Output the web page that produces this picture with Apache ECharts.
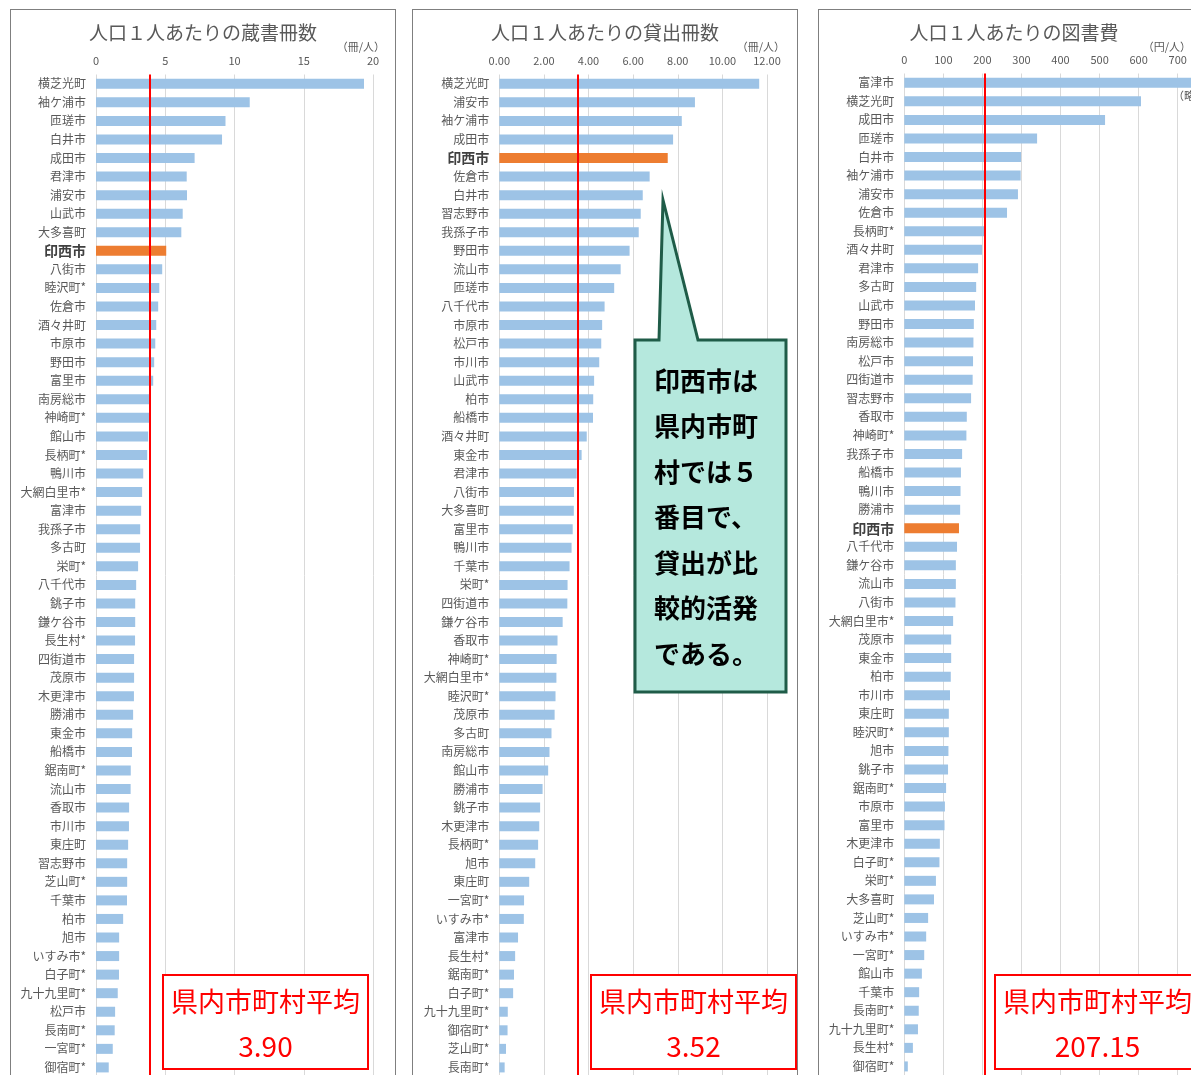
<!DOCTYPE html>
<html>
<head>
<meta charset="utf-8">
<script src="https://cdn.jsdelivr.net/npm/echarts@6/dist/echarts.min.js"></script>
<style>
  html, body { margin: 0; padding: 0; background: #fff; overflow: hidden; width: 1191px; height: 1075px; }
  .panel { position: absolute; top: 9px; height: 1100px; border: 1px solid #7f7f7f; box-sizing: border-box; background: #fff; }
</style>
</head>
<body>
<div id="p1" class="panel" style="left:10px;width:386px;"></div>
<div id="p2" class="panel" style="left:412px;width:386px;"></div>
<div id="p3" class="panel" style="left:818px;width:392px;"></div>
<script>
// 人口1人あたりの蔵書冊数
const books_names = ['横芝光町','袖ケ浦市','匝瑳市','白井市','成田市','君津市','浦安市','山武市','大多喜町','印西市',
  '八街市','睦沢町*','佐倉市','酒々井町','市原市','野田市','富里市','南房総市','神崎町*','館山市',
  '長柄町*','鴨川市','大網白里市*','富津市','我孫子市','多古町','栄町*','八千代市','銚子市','鎌ケ谷市',
  '長生村*','四街道市','茂原市','木更津市','勝浦市','東金市','船橋市','鋸南町*','流山市','香取市',
  '市川市','東庄町','習志野市','芝山町*','千葉市','柏市','旭市','いすみ市*','白子町*','九十九里町*',
  '松戸市','長南町*','一宮町*','御宿町*'];
const books_values = [19.35,11.1,9.35,9.1,7.12,6.55,6.57,6.26,6.16,5.07,
  4.78,4.57,4.49,4.35,4.28,4.2,4.13,3.87,3.86,3.77,
  3.7,3.41,3.33,3.26,3.19,3.18,3.04,2.9,2.83,2.83,
  2.82,2.75,2.75,2.74,2.68,2.61,2.6,2.51,2.5,2.39,
  2.38,2.32,2.25,2.25,2.24,1.96,1.67,1.67,1.66,1.57,
  1.38,1.35,1.21,0.92];
const books_avg = 3.90;

// 人口1人あたりの貸出冊数
const loans_names = ['横芝光町','浦安市','袖ケ浦市','成田市','印西市','佐倉市','白井市','習志野市','我孫子市','野田市',
  '流山市','匝瑳市','八千代市','市原市','松戸市','市川市','山武市','柏市','船橋市','酒々井町',
  '東金市','君津市','八街市','大多喜町','富里市','鴨川市','千葉市','栄町*','四街道市','鎌ケ谷市',
  '香取市','神崎町*','大網白里市*','睦沢町*','茂原市','多古町','南房総市','館山市','勝浦市','銚子市',
  '木更津市','長柄町*','旭市','東庄町','一宮町*','いすみ市*','富津市','長生村*','鋸南町*','白子町*',
  '九十九里町*','御宿町*','芝山町*','長南町*'];
const loans_values = [11.65,8.77,8.18,7.79,7.55,6.74,6.43,6.34,6.25,5.84,
  5.44,5.15,4.72,4.61,4.57,4.48,4.25,4.21,4.2,3.92,
  3.69,3.47,3.35,3.34,3.29,3.24,3.15,3.06,3.05,2.84,
  2.61,2.57,2.56,2.52,2.48,2.34,2.25,2.19,1.94,1.83,
  1.79,1.74,1.61,1.34,1.11,1.1,0.84,0.71,0.66,0.62,
  0.38,0.37,0.3,0.24];
const loans_avg = 3.52;

// 人口1人あたりの図書費（富津市は略）
const cost_names = ['富津市','横芝光町','成田市','匝瑳市','白井市','袖ケ浦市','浦安市','佐倉市','長柄町*','酒々井町',
  '君津市','多古町','山武市','野田市','南房総市','松戸市','四街道市','習志野市','香取市','神崎町*',
  '我孫子市','船橋市','鴨川市','勝浦市','印西市','八千代市','鎌ケ谷市','流山市','八街市','大網白里市*',
  '茂原市','東金市','柏市','市川市','東庄町','睦沢町*','旭市','銚子市','鋸南町*','市原市',
  '富里市','木更津市','白子町*','栄町*','大多喜町','芝山町*','いすみ市*','一宮町*','館山市','千葉市',
  '長南町*','九十九里町*','長生村*','御宿町*'];
const cost_values = [850,606,514,340,299,298,291,263,205,199,
  189,184,181,178,177,176,175,171,160,159,
  148,145,144,143,140,135,132,132,131,125,
  120,120,119,117,114,114,113,112,107,104,
  103,91,90,81,76,61,56,51,45,38,
  37,35,22,9];
const cost_avg = 207.15;

const FONT = '"Noto Sans CJK JP", "Noto Sans", sans-serif';
const HL = '印西市';

function makePanel(id, cfg) {
  const chart = echarts.init(document.getElementById(id));
  const data = cfg.values.map(function (v, i) {
    const item = { value: v };
    if (cfg.names[i] === HL) item.itemStyle = { color: '#ed7d31' };
    return item;
  });
  const cx = cfg.boxX + 102.5;
  const gfx = [
    { type: 'text', right: cfg.unitRight, top: 31, z: 50,
      style: { text: cfg.unit, font: '11px ' + FONT, fill: '#595959' } },
    { type: 'rect', x: cfg.boxX, y: 965, z: 60,
      shape: { width: 205, height: 94 },
      style: { fill: '#fff', stroke: '#ff0000', lineWidth: 2 } },
    { type: 'text', x: cx, y: 992, z: 61,
      style: { text: '県内市町村平均', font: '27px ' + FONT, fill: '#ff0000', align: 'center', verticalAlign: 'middle' } },
    { type: 'text', x: cx, y: 1036, z: 61,
      style: { text: cfg.avgText, font: '28px ' + FONT, fill: '#ff0000', align: 'center', verticalAlign: 'middle' } }
  ];
  if (cfg.extra) cfg.extra.forEach(function (g) { gfx.push(g); });

  chart.setOption({
    animation: false,
    textStyle: { fontFamily: FONT },
    title: {
      text: cfg.title, left: 'center', top: 8,
      textStyle: { fontSize: 19, fontWeight: 'normal', color: '#595959', fontFamily: FONT }
    },
    grid: { left: cfg.left, right: cfg.right, top: 64.5 + cfg.dy, height: 1002.2, containLabel: false },
    xAxis: {
      type: 'value', position: 'top', min: 0, max: cfg.max, interval: cfg.interval,
      axisLine: { show: false }, axisTick: { show: false },
      axisLabel: { color: '#595959', fontSize: 11, margin: 8, formatter: cfg.fmt },
      splitLine: { lineStyle: { color: '#d9d9d9', width: 1 } }
    },
    yAxis: {
      type: 'category', inverse: true, data: cfg.names,
      axisLine: { show: false }, axisTick: { show: false },
      axisLabel: {
        color: '#595959', fontSize: 12, margin: 10, interval: 0,
        formatter: function (v) { return v === HL ? '{b|' + v + '}' : v; },
        rich: { b: { fontWeight: 'bold', fontSize: 14, color: '#404040', fontFamily: FONT } }
      }
    },
    series: [{
      type: 'bar', data: data, barWidth: 10, clip: false,
      itemStyle: { color: '#9dc3e6' },
      markLine: {
        silent: true, symbol: 'none', label: { show: false },
        lineStyle: { color: '#ff0000', width: 2, type: 'solid' },
        data: [{ xAxis: cfg.avg }]
      }
    }],
    graphic: gfx
  });
  return chart;
}

makePanel('p1', {
  title: '人口１人あたりの蔵書冊数', unit: '（冊/人）', unitRight: 10,
  names: books_names, values: books_values, avg: books_avg, avgText: '3.90',
  max: 20, interval: 5, fmt: function (v) { return String(v); },
  left: 85, right: 22, dy: 0, boxX: 152
});

// 吹き出し
const calloutText = ['印西市は', '県内市町', '村では５', '番目で、', '貸出が比', '較的活発', 'である。'].join('\n');
makePanel('p2', {
  title: '人口１人あたりの貸出冊数', unit: '（冊/人）', unitRight: 12,
  names: loans_names, values: loans_values, avg: loans_avg, avgText: '3.52',
  max: 12, interval: 2, fmt: function (v) { return v.toFixed(2); },
  left: 86.3, right: 30, dy: 0, boxX: 178,
  extra: [
    { type: 'polygon', z: 70,
      shape: { points: [[250, 190], [285, 330], [373, 330], [373, 682], [222, 682], [222, 330], [246, 330]] },
      style: { fill: '#b5e8dd', stroke: '#1f5c48', lineWidth: 3 } },
    { type: 'text', left: 241, top: 348, z: 71,
      style: { text: calloutText, font: 'bold 26px ' + FONT, fill: '#000', lineHeight: 45.5 } }
  ]
});

makePanel('p3', {
  title: '人口１人あたりの図書費', unit: '（円/人）', unitRight: 18,
  names: cost_names, values: cost_values, avg: cost_avg, avgText: '207.15',
  max: 700, interval: 100, fmt: function (v) { return String(v); },
  left: 85.3, right: 31.3, dy: -1, boxX: 176,
  extra: [
    { type: 'text', left: 354, top: 80, z: 50,
      style: { text: '（略）', font: '11px ' + FONT, fill: '#595959' } }
  ]
});
</script>
</body>
</html>
